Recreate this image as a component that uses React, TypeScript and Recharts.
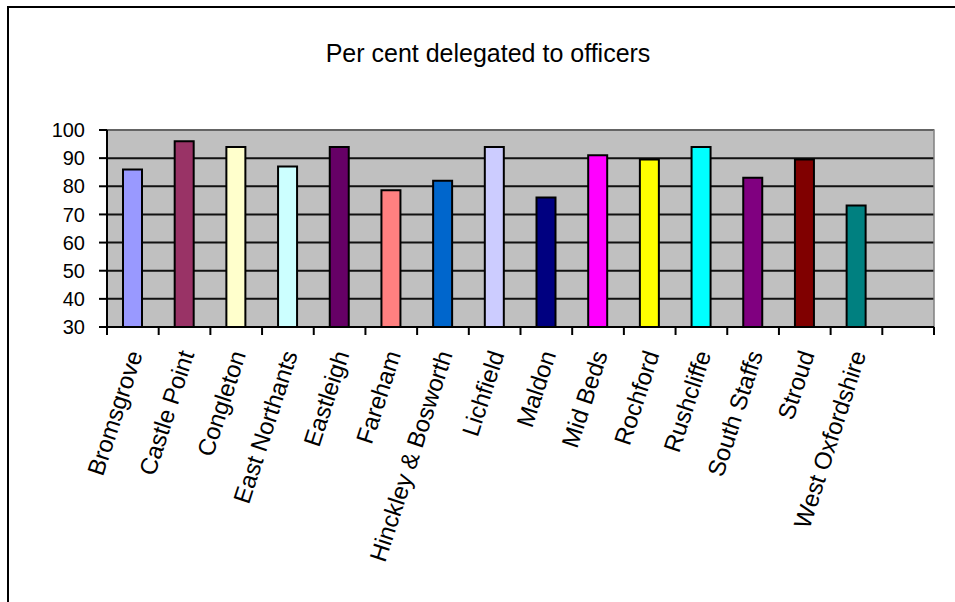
import { BarChart, Bar, XAxis, YAxis, CartesianGrid, ReferenceArea, Cell } from 'recharts';

const councils = [
  'Bromsgrove',
  'Castle Point',
  'Congleton',
  'East Northants',
  'Eastleigh',
  'Fareham',
  'Hinckley & Bosworth',
  'Lichfield',
  'Maldon',
  'Mid Beds',
  'Rochford',
  'Rushcliffe',
  'South Staffs',
  'Stroud',
  'West Oxfordshire',
  '',
];
const delegated = [86, 96, 94, 87, 94, 78.6, 82, 94, 76, 91, 89.5, 94, 83, 89.5, 73.2, null];
const barColors = [
  '#9999FF', '#993366', '#FFFFCC', '#CCFFFF', '#660066', '#FF8080', '#0066CC', '#CCCCFF',
  '#000080', '#FF00FF', '#FFFF00', '#00FFFF', '#800080', '#800000', '#008080',
];
const yTicks = [30, 40, 50, 60, 70, 80, 90, 100];
const slotEdges = [0, 1, 2, 3, 4, 5, 6, 7, 8, 9, 10, 11, 12, 13, 14, 15, 16];

const data = councils.map((name, i) => ({ name, value: delegated[i], slot: i + 0.5 }));

const font = '"Liberation Sans", Arial, sans-serif';

function CouncilTick(props: any) {
  const { x, y, payload } = props;
  if (!payload.value) return null;
  return (
    <g transform={`translate(${x + 10},${y + 18})`}>
      <text
        transform="rotate(-72)"
        textAnchor="end"
        fontSize={24}
        fontFamily={font}
        fill="#000"
      >
        {payload.value}
      </text>
    </g>
  );
}

// boundary tick marks only, no text
const NoLabel = () => <g />;

export default function App() {
  return (
    <div
      style={{
        position: 'absolute',
        left: 7,
        top: 6,
        width: 948,
        height: 596,
        borderTop: '2px solid #000',
        borderLeft: '2px solid #000',
        boxSizing: 'border-box',
        background: '#fff',
      }}
    >
      <div
        style={{
          position: 'absolute',
          left: 0,
          top: 30,
          width: 958,
          textAlign: 'center',
          fontFamily: font,
          fontSize: 25,
          lineHeight: '30px',
          color: '#000',
        }}
      >
        Per cent delegated to officers
      </div>
      <div style={{ position: 'absolute', left: 1, top: 2 }}>
        <BarChart
          width={945}
          height={592}
          data={data}
          margin={{ top: 120, right: 21, bottom: 0, left: 0 }}
        >
          <CartesianGrid
            xAxisId="b"
            vertical={false}
            stroke="#111"
            strokeWidth={2}
            fill="#C0C0C0"
            fillOpacity={1}
          />
          <XAxis
            xAxisId="b"
            dataKey="name"
            interval={0}
            height={274}
            axisLine={false}
            tickLine={false}
            tick={<CouncilTick />}
          />
          <XAxis
            xAxisId="a"
            dataKey="slot"
            type="number"
            domain={[0, 16]}
            ticks={slotEdges}
            interval={0}
            allowDataOverflow
            height={1}
            tick={<NoLabel />}
            tickSize={8}
            tickLine={{ stroke: '#000', strokeWidth: 2 }}
            axisLine={{ stroke: '#000', strokeWidth: 2 }}
          />
          <YAxis
            width={97}
            domain={[30, 100]}
            ticks={yTicks}
            allowDataOverflow
            interval={0}
            tickSize={8}
            tickMargin={14}
            tickLine={{ stroke: '#000', strokeWidth: 2 }}
            axisLine={{ stroke: '#000', strokeWidth: 2 }}
            tick={{ fontSize: 20, fontFamily: font, fill: '#000' }}
          />
          <ReferenceArea
            xAxisId="b"
            y1={30}
            y2={100}
            fill="none"
            stroke="#808080"
            strokeWidth={1.5}
          />
          <Bar
            xAxisId="b"
            dataKey="value"
            barSize={19}
            stroke="#000"
            strokeWidth={2}
            isAnimationActive={false}
          >
            {data.map((d, i) => (
              <Cell key={d.name + i} fill={barColors[i] || '#fff'} />
            ))}
          </Bar>
        </BarChart>
      </div>
    </div>
  );
}
